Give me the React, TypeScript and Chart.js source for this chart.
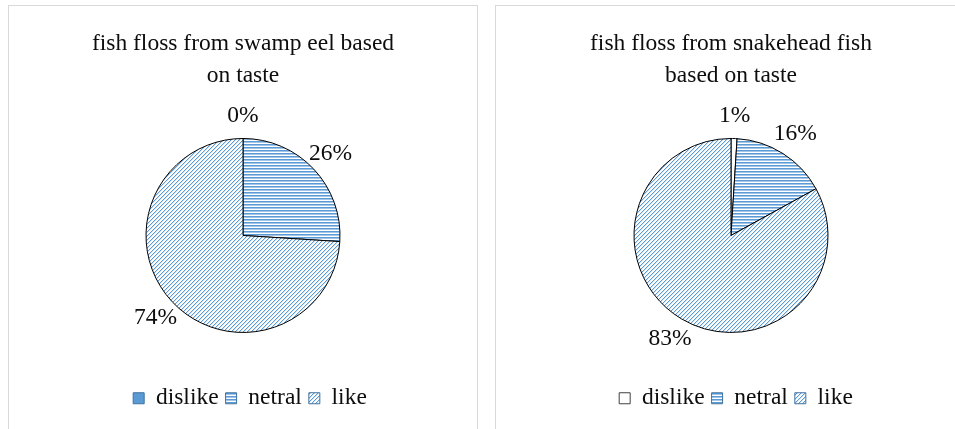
import React, { useEffect, useRef } from 'react';
import { Chart, registerables } from 'chart.js';

Chart.register(...registerables);

const categories = ['dislike', 'netral', 'like'];
const swampEelValues = [0, 26, 74];
const snakeheadValues = [1, 16, 83];
const swampEelTitle = ['fish floss from swamp eel based', 'on taste'];
const snakeheadTitle = ['fish floss from snakehead fish', 'based on taste'];

const FONT = "'Liberation Serif', 'Times New Roman', Times, serif";
const FONT_SIZE = 23.5;
const BLUE = '#5b9bd5';
const TEXT = '#0d0d0d';

function makeHPattern(ctx: CanvasRenderingContext2D) {
  const c = document.createElement('canvas');
  c.width = 4;
  c.height = 3;
  const g = c.getContext('2d')!;
  g.fillStyle = '#ffffff';
  g.fillRect(0, 0, 4, 3);
  g.fillStyle = BLUE;
  g.fillRect(0, 0, 4, 1);
  g.fillStyle = '#a3c5e8';
  g.fillRect(0, 1, 4, 1);
  return ctx.createPattern(c, 'repeat')!;
}

function makeDPattern(ctx: CanvasRenderingContext2D) {
  const s = 4;
  const c = document.createElement('canvas');
  c.width = s;
  c.height = s;
  const g = c.getContext('2d')!;
  g.fillStyle = '#ffffff';
  g.fillRect(0, 0, s, s);
  for (let x = 0; x < s; x++) {
    for (let y = 0; y < s; y++) {
      const k = (x + y) % s;
      if (k === s - 1) {
        g.fillStyle = BLUE;
        g.fillRect(x, y, 1, 1);
      } else if (k === 0) {
        g.fillStyle = '#d3e4f5';
        g.fillRect(x, y, 1, 1);
      }
    }
  }
  return ctx.createPattern(c, 'repeat')!;
}

const outLabels = {
  id: 'outLabels',
  afterDatasetsDraw(chart: any) {
    const ctx = chart.ctx as CanvasRenderingContext2D;
    const meta = chart.getDatasetMeta(0);
    const data = chart.data.datasets[0].data as number[];
    ctx.save();
    ctx.font = `${FONT_SIZE}px ${FONT}`;
    ctx.fillStyle = TEXT;
    ctx.textAlign = 'center';
    ctx.textBaseline = 'middle';
    meta.data.forEach((arc: any, i: number) => {
      const { x, y, startAngle, endAngle, outerRadius } = arc.getProps(
        ['x', 'y', 'startAngle', 'endAngle', 'outerRadius'],
        true
      );
      const mid = (startAngle + endAngle) / 2;
      const text = `${data[i]}%`;
      const d = outerRadius + 23;
      ctx.fillText(text, x + Math.cos(mid) * d, y + Math.sin(mid) * d);
    });
    ctx.restore();
  },
};

const legendShift = {
  id: 'legendShift',
  afterLayout(chart: any, _args: any, opts: any) {
    const lg = chart.legend;
    if (lg && opts && opts.dx) {
      lg.left += opts.dx;
      lg.right += opts.dx;
    }
  },
};

function PieChart({
  values,
  title,
  dislikeFill,
  dislikeStroke,
  width,
  height,
  legendDx,
}: {
  values: number[];
  title: string[];
  dislikeFill: string;
  dislikeStroke: string;
  width: number;
  height: number;
  legendDx: number;
}) {
  const ref = useRef<HTMLCanvasElement>(null);
  useEffect(() => {
    const canvas = ref.current!;
    const ctx = canvas.getContext('2d')!;
    const hPat = makeHPattern(ctx);
    const dPat = makeDPattern(ctx);
    const chart = new Chart(canvas, {
      type: 'pie',
      data: {
        labels: categories,
        datasets: [
          {
            data: values,
            backgroundColor: [dislikeFill, hPat, dPat] as any,
            borderColor: '#000000',
            borderWidth: 1,
            radius: 97,
          } as any,
        ],
      },
      plugins: [outLabels, legendShift],
      options: {
        responsive: false,
        animation: false,
        devicePixelRatio: 1,
        layout: { padding: { top: 0, bottom: 9, left: 0, right: 0 } },
        plugins: {
          tooltip: { enabled: false },
          legendShift: { dx: legendDx },
          title: {
            display: true,
            text: title,
            color: TEXT,
            font: { family: FONT, size: FONT_SIZE, weight: 'normal', lineHeight: 1.35 },
            padding: { top: 22, bottom: 0 },
          },
          legend: {
            display: true,
            position: 'bottom',
            labels: {
              color: TEXT,
              font: { family: FONT, size: FONT_SIZE },
              boxWidth: 11,
              boxHeight: 11,
              padding: 7,
              generateLabels(c: any) {
                const items = (Chart as any).overrides.pie.plugins.legend.labels.generateLabels(c);
                return items.map((it: any, i: number) => ({
                  ...it,
                  strokeStyle: i === 0 ? dislikeStroke : '#41719c',
                  lineWidth: 1,
                  fontColor: TEXT,
                  hidden: false,
                }));
              },
            },
          },
        } as any,
      },
    });
    return () => chart.destroy();
  }, []);
  return <canvas ref={ref} width={width} height={height} style={{ display: 'block' }} />;
}

export default function App() {
  return (
    <div
      style={{
        position: 'fixed',
        left: 0,
        top: 0,
        width: 955,
        height: 429,
        overflow: 'hidden',
        background: '#ffffff',
      }}
    >
      <div
        style={{
          position: 'absolute',
          left: 8,
          top: 5,
          width: 468,
          height: 440,
          border: '1px solid #d9d9d9',
        }}
      >
        <PieChart
          values={swampEelValues}
          title={swampEelTitle}
          dislikeFill={BLUE}
          dislikeStroke="#41719c"
          width={468}
          height={423}
          legendDx={7}
        />
      </div>
      <div
        style={{
          position: 'absolute',
          left: 495,
          top: 5,
          width: 470,
          height: 440,
          border: '1px solid #d9d9d9',
        }}
      >
        <PieChart
          values={snakeheadValues}
          title={snakeheadTitle}
          dislikeFill="#ffffff"
          dislikeStroke="#404040"
          width={470}
          height={423}
          legendDx={5}
        />
      </div>
    </div>
  );
}
